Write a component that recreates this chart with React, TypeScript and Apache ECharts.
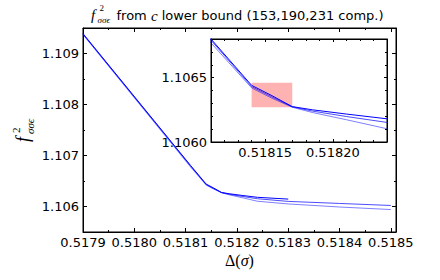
import React, { useEffect, useRef } from "react";
import * as echarts from "echarts";

// ---- data ----
const seriesNames = ["153 comp.", "190 comp.", "231 comp."];
const xLow = [0.5179, 0.51811, 0.51814, 0.518155, 0.51817, 0.518185, 0.51821, 0.51824, 0.5183, 0.5184, 0.5185];
const yLow = [1.10937, 1.10677, 1.10642, 1.10634, 1.10627, 1.106229, 1.106173, 1.106103, 1.10605, 1.10599, 1.10594];
const xMid = [0.5179, 0.51811, 0.51814, 0.518155, 0.51817, 0.518185, 0.51821, 0.51824, 0.5183, 0.5184, 0.5185];
const yMid = [1.10938, 1.10679, 1.10643, 1.10635, 1.106273, 1.10624, 1.106198, 1.106152, 1.1061, 1.10606, 1.10602];
const xTop = [0.5179, 0.51811, 0.51814, 0.518155, 0.51817, 0.518185, 0.51821, 0.51824, 0.5183];
const yTop = [1.10939, 1.1068, 1.10644, 1.10636, 1.106275, 1.10625, 1.106217, 1.10618, 1.106145];

const rectX = [0.51814, 0.51817];
const rectY = [1.10627, 1.10646];

const mainXMajor = [0.5179, 0.518, 0.5181, 0.5182, 0.5183, 0.5184, 0.5185];
const mainXMinor = [0.51795, 0.51805, 0.51815, 0.51825, 0.51835, 0.51845];
const mainYMajor = [1.106, 1.107, 1.108, 1.109];
const mainYMinor = [1.1065, 1.1075, 1.1085];
const insetXMajor = [0.51815, 0.5182];
const insetXMinor = [0.51812, 0.51813, 0.51814, 0.51816, 0.51817, 0.51818, 0.51819, 0.51821, 0.51822, 0.51823];
const insetYMajor = [1.106, 1.1065];
const insetYMinor = [1.1061, 1.1062, 1.1063, 1.1064, 1.1066, 1.1067];

const FONT = "DejaVu Sans";
const MATH = "Liberation Serif";
const INK = "#000";

function zip(xs: number[], ys: number[]) {
  return xs.map((x, i) => [x, ys[i]]);
}

function axisSet(
  kind: "x" | "y",
  grid: number,
  min: number,
  max: number,
  major: number[],
  minor: number[],
  fmt: (v: number) => string,
  majorLen: number,
  minorLen: number
) {
  const pos = kind === "x" ? ["bottom", "top"] : ["left", "right"];
  const base = {
    type: "value",
    gridIndex: grid,
    min,
    max,
    splitLine: { show: false },
    minorTick: { show: false },
    minorSplitLine: { show: false },
  };
  const axes: any[] = [];
  pos.forEach((p, i) => {
    axes.push({
      ...base,
      position: p,
      axisLine: { show: true, onZero: false, lineStyle: { color: INK, width: 1 } },
      axisTick: { show: true, inside: true, length: majorLen, customValues: major, lineStyle: { color: INK, width: 1 } },
      axisLabel: i === 0
        ? { show: true, customValues: major, formatter: (v: number) => fmt(v), margin: 4, color: "#000", fontFamily: FONT, fontSize: 13 }
        : { show: false },
    });
  });
  pos.forEach((p) => {
    axes.push({
      ...base,
      position: p,
      axisLine: { show: false, onZero: false },
      axisTick: { show: true, inside: true, length: minorLen, customValues: minor, lineStyle: { color: INK, width: 1 } },
      axisLabel: { show: false },
    });
  });
  return axes;
}

export default function App() {
  const ref = useRef<HTMLDivElement>(null);
  useEffect(() => {
    if (!ref.current) return;
    const chart = echarts.init(ref.current, null, { renderer: "svg" });
    const xAxes = [
      ...axisSet("x", 0, 0.5179, 0.51851, mainXMajor, mainXMinor, (v) => v.toFixed(4), 4, 2),
      ...axisSet("x", 1, 0.51811, 0.51824, insetXMajor, insetXMinor, (v) => v.toFixed(5), 3, 2),
    ];
    const yAxes = [
      ...axisSet("y", 0, 1.1055, 1.1095, mainYMajor, mainYMinor, (v) => v.toFixed(3), 4, 2),
      ...axisSet("y", 1, 1.106, 1.1068, insetYMajor, insetYMinor, (v) => v.toFixed(4), 3, 2),
    ];
    const styles = [
      { name: seriesNames[0], data: zip(xLow, yLow), color: "rgba(0,0,255,0.5)" },
      { name: seriesNames[1], data: zip(xMid, yMid), color: "rgba(0,0,255,0.7)" },
      { name: seriesNames[2], data: zip(xTop, yTop), color: "rgba(0,0,255,1)" },
    ];
    const series: any[] = [];
    [0, 4].forEach((axisIdx, g) => {
      styles.forEach((s, k) => {
        series.push({
          type: "line",
          name: s.name,
          xAxisIndex: axisIdx,
          yAxisIndex: axisIdx,
          data: s.data,
          showSymbol: false,
          symbol: "none",
          clip: true,
          lineStyle: { color: s.color, width: 1 },
          itemStyle: { color: s.color },
          z: 3,
          markArea:
            g === 1 && k === 0
              ? {
                  silent: true,
                  itemStyle: { color: "rgba(255,0,0,0.3)" },
                  data: [[{ coord: [rectX[0], rectY[1]] }, { coord: [rectX[1], rectY[0]] }]],
                }
              : undefined,
        });
      });
    });
    chart.setOption({
      animation: false,
      backgroundColor: "#fff",
      grid: [
        { left: 83, top: 28, width: 313, height: 204, show: true, backgroundColor: "transparent", borderColor: INK, borderWidth: 1, outerBoundsMode: "none", containLabel: false },
        { left: 211, top: 39, width: 176, height: 103, show: true, backgroundColor: "#fff", borderColor: INK, borderWidth: 1, outerBoundsMode: "none", containLabel: false },
      ],
      xAxis: xAxes,
      yAxis: yAxes,
      series,
      graphic: [
        // title
        { type: "text", x: 91, y: 15, style: { text: "f", font: `italic 15px "${MATH}"`, fill: "#000", verticalAlign: "middle", align: "left" } },
        { type: "text", x: 99.5, y: 8, style: { text: "2", font: `9px "${MATH}"`, fill: "#000", verticalAlign: "middle", align: "left" } },
        { type: "text", x: 97.5, y: 19.5, style: { text: "σσϵ", font: `italic 9px "${MATH}"`, fill: "#000", verticalAlign: "middle", align: "left" } },
        {
          type: "text",
          x: 116.5,
          y: 15.5,
          style: {
            text: "from {c|c} lower bound (153,190,231 comp.)",
            font: `13px "${FONT}"`,
            fill: "#000",
            verticalAlign: "middle",
            align: "left",
            rich: { c: { fontFamily: MATH, fontStyle: "italic", fontSize: 15, fill: "#000" } },
          },
        },
        // x label
        {
          type: "text",
          x: 239.5,
          y: 260,
          style: {
            text: "Δ({s|σ})",
            font: `16px "${MATH}"`,
            fill: "#000",
            align: "center",
            verticalAlign: "middle",
            rich: { s: { fontFamily: MATH, fontStyle: "italic", fontSize: 16, fill: "#000" } },
          },
        },
        // y label (rotated)
        {
          type: "group",
          x: 23,
          y: 130,
          rotation: Math.PI / 2,
          children: [
            { type: "text", x: -12, y: 0, style: { text: "f", font: `italic 18px "${MATH}"`, fill: "#000", verticalAlign: "middle", align: "left" } },
            { type: "text", x: -3, y: -7, style: { text: "2", font: `11px "${MATH}"`, fill: "#000", verticalAlign: "middle", align: "left" } },
            { type: "text", x: -4, y: 7, style: { text: "σσϵ", font: `italic 11px "${MATH}"`, fill: "#000", verticalAlign: "middle", align: "left" } },
          ],
        },
      ],
    });
    return () => chart.dispose();
  }, []);
  return <div ref={ref} style={{ position: "fixed", left: 0, top: 0, width: 440, height: 280 }} />;
}
